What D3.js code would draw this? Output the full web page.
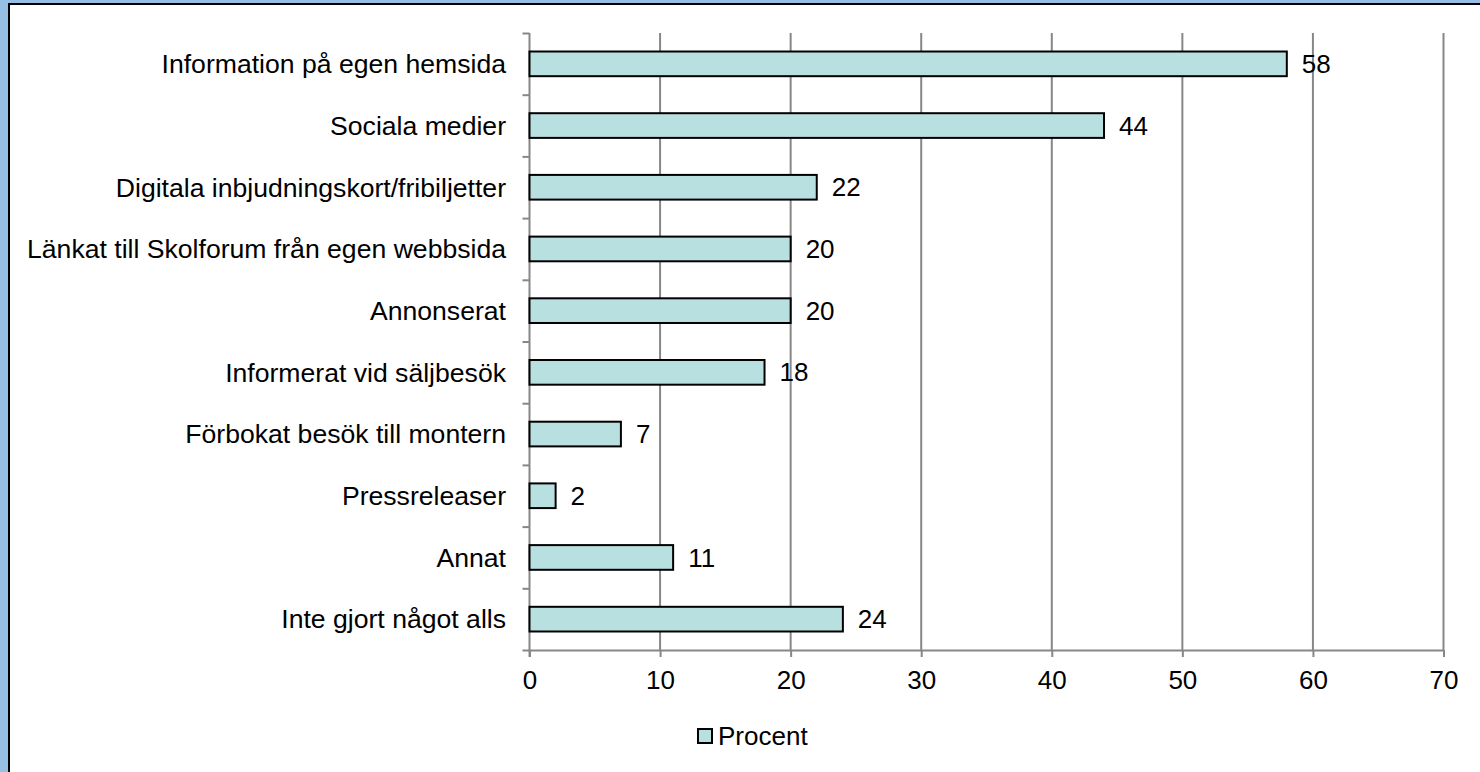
<!DOCTYPE html>
<meta charset="utf-8">
<title>Procent</title>
<script src="https://cdn.jsdelivr.net/npm/d3@7"></script>
<style>
  body { margin: 0; font-family: "Liberation Sans", Arial, sans-serif; }
  svg text { font-family: "Liberation Sans", Arial, sans-serif; }
</style>
<div id="chart"></div>
<script>
  // data
  var categories = ["Information på egen hemsida", "Sociala medier",
    "Digitala inbjudningskort/fribiljetter", "Länkat till Skolforum från egen webbsida",
    "Annonserat", "Informerat vid säljbesök", "Förbokat besök till montern",
    "Pressreleaser", "Annat", "Inte gjort något alls"];
  var values = [58, 44, 22, 20, 20, 18, 7, 2, 11, 24];
  var xTicks = [0, 10, 20, 30, 40, 50, 60, 70];
  var seriesName = "Procent";

  var W = 1480, H = 772;
  var plot = {left: 529.5, right: 1443.5, top: 33, bottom: 650};
  var fontSize = 26;

  var svg = d3.select("#chart").append("svg")
    .attr("width", W).attr("height", H);

  // frame
  svg.append("rect").attr("width", W).attr("height", H).attr("fill", "#95c0e3");
  svg.append("rect")
    .attr("x", 9).attr("y", 4).attr("width", W + 20).attr("height", H + 20)
    .attr("fill", "#fff").attr("stroke", "#000").attr("stroke-width", 2);

  var x = d3.scaleLinear().domain([0, 70]).range([plot.left, plot.right]);
  var y = d3.scaleBand().domain(categories).range([plot.top, plot.bottom]).paddingInner(0.6).paddingOuter(0.3);
  var yEdge = d3.scaleLinear().domain([0, categories.length]).range([plot.top, plot.bottom]);

  // vertical gridlines
  svg.append("g").selectAll("line")
    .data(xTicks.slice(1))
    .enter().append("line")
    .attr("x1", function(d) { return x(d); })
    .attr("x2", function(d) { return x(d); })
    .attr("y1", plot.top).attr("y2", plot.bottom)
    .attr("stroke", "#878787").attr("stroke-width", 2);

  // x axis
  var xAxis = svg.append("g")
    .attr("transform", "translate(0," + plot.bottom + ")")
    .call(d3.axisBottom(x).tickValues(xTicks).tickSize(7).tickPadding(14).tickSizeOuter(0));
  xAxis.select(".domain").attr("stroke", "#878787").attr("stroke-width", 2);
  xAxis.selectAll(".tick line").attr("stroke", "#878787").attr("stroke-width", 2);
  xAxis.selectAll("text").attr("font-size", fontSize).attr("fill", "#000")
    .style("font-family", "Liberation Sans, Arial, sans-serif");

  // y axis with ticks between categories
  var yAxis = svg.append("g")
    .attr("transform", "translate(" + plot.left + ",0)")
    .call(d3.axisLeft(yEdge).ticks(categories.length).tickSize(7).tickFormat("").tickSizeOuter(0));
  yAxis.select(".domain").remove();
  yAxis.selectAll(".tick line").attr("stroke", "#878787").attr("stroke-width", 2);
  svg.append("line")
    .attr("x1", plot.left).attr("x2", plot.left).attr("y1", plot.top).attr("y2", plot.bottom + 7)
    .attr("stroke", "#878787").attr("stroke-width", 2);

  // category labels
  svg.append("g").selectAll("text")
    .data(categories)
    .enter().append("text")
    .attr("x", 506)
    .attr("y", function(d) { return y(d) + y.bandwidth() / 2; })
    .attr("dy", "0.35em")
    .attr("text-anchor", "end")
    .attr("font-size", 26.6)
    .text(function(d) { return d; });

  // bars
  svg.append("g").selectAll("rect")
    .data(values)
    .enter().append("rect")
    .attr("x", x(0))
    .attr("y", function(d, i) { return y(categories[i]); })
    .attr("width", function(d) { return x(d) - x(0); })
    .attr("height", y.bandwidth())
    .attr("fill", "#b9e0e1")
    .attr("stroke", "#000").attr("stroke-width", 2);

  // value labels
  svg.append("g").selectAll("text")
    .data(values)
    .enter().append("text")
    .attr("x", function(d) { return x(d) + 15; })
    .attr("y", function(d, i) { return y(categories[i]) + y.bandwidth() / 2; })
    .attr("dy", "0.35em")
    .attr("font-size", fontSize)
    .text(function(d) { return d; });

  // legend
  var legend = svg.append("g").attr("transform", "translate(698,729)");
  legend.append("rect")
    .attr("width", 14).attr("height", 14)
    .attr("fill", "#b9e0e1").attr("stroke", "#000").attr("stroke-width", 2);
  legend.append("text")
    .attr("x", 20).attr("y", 7).attr("dy", "0.35em")
    .attr("font-size", fontSize)
    .text(seriesName);
</script>
